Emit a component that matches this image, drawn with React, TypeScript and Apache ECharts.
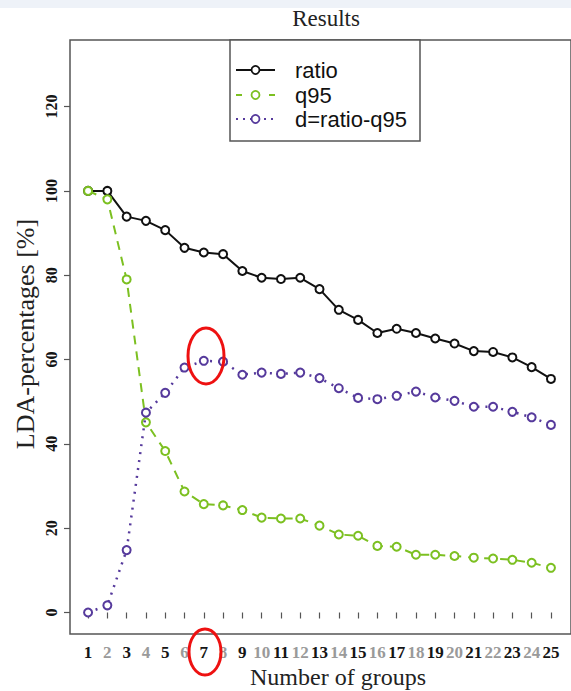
import React, { useEffect, useRef } from "react";
import * as echarts from "echarts";

// Number of groups on the x axis
const groups = [1, 2, 3, 4, 5, 6, 7, 8, 9, 10, 11, 12, 13, 14, 15, 16, 17, 18, 19, 20, 21, 22, 23, 24, 25];

// LDA percentages per number of groups
const ratio = [100, 100, 93.9, 92.9, 90.7, 86.5, 85.4, 85.0, 81.0, 79.4, 79.1, 79.4, 76.7, 71.8, 69.4, 66.3, 67.3, 66.3, 65.0, 63.8, 62.0, 61.8, 60.5, 58.2, 55.4];
const q95 = [100, 98.0, 79.0, 45.1, 38.3, 28.7, 25.7, 25.4, 24.3, 22.5, 22.3, 22.3, 20.6, 18.5, 18.2, 15.8, 15.6, 13.7, 13.7, 13.4, 13.0, 12.8, 12.5, 11.8, 10.6];
const diff = [0, 1.7, 14.8, 47.4, 52.1, 58.1, 59.7, 59.5, 56.4, 56.9, 56.6, 56.9, 55.6, 53.2, 50.9, 50.6, 51.4, 52.4, 51.0, 50.2, 48.8, 48.8, 47.6, 46.3, 44.5];

const yTicks = [0, 20, 40, 60, 80, 100, 120];
const seriesNames = ["ratio", "q95", "d=ratio-q95"];

const BLACK = "#111111";
const GREEN = "#7cc021";
const PURPLE = "#563a9c";
const SERIF = "Liberation Serif, Times New Roman, serif";
const SANS = "Liberation Sans, Arial, sans-serif";

export default function App() {
  const ref = useRef<HTMLDivElement>(null);

  useEffect(() => {
    if (!ref.current) return;
    const chart = echarts.init(ref.current, undefined, { renderer: "svg" });

    const pts = (vals: number[]) => groups.map((g, i) => [g, vals[i]]);

    const legendRows = [
      { name: seriesNames[0], color: BLACK, dash: null as number[] | null, y: 70 },
      { name: seriesNames[1], color: GREEN, dash: [6, 27], y: 95 },
      { name: seriesNames[2], color: PURPLE, dash: [2, 5], y: 119 },
    ];

    const legendEls: any[] = [
      {
        type: "rect",
        shape: { x: 230, y: 40, width: 190, height: 101 },
        style: { fill: "#fff", stroke: "#555", lineWidth: 1.5 },
        z: 10,
      },
    ];
    legendRows.forEach((r) => {
      legendEls.push({
        type: "line",
        shape: { x1: 236, y1: r.y, x2: 275, y2: r.y },
        style: { stroke: r.color, lineWidth: 2, lineDash: r.dash || undefined },
        z: 11,
      });
      legendEls.push({
        type: "circle",
        shape: { cx: 255.5, cy: r.y, r: 4 },
        style: { fill: "#fff", stroke: r.color, lineWidth: 1.8 },
        z: 12,
      });
      legendEls.push({
        type: "text",
        x: 295,
        y: r.y,
        style: { text: r.name, font: `22px ${SANS}`, fill: "#111", verticalAlign: "middle" },
        z: 12,
      });
    });

    const option: any = {
      animation: false,
      backgroundColor: "#ffffff",
      grid: {
        left: 70,
        top: 40,
        width: 513,
        height: 594,
        show: true,
        borderColor: "#555",
        borderWidth: 1.5,
        backgroundColor: "transparent",
      },
      xAxis: {
        type: "value",
        min: 0.063,
        max: 26.04,
        splitLine: { show: false },
        axisLine: { show: false },
        axisTick: {
          show: true,
          customValues: groups,
          length: 6,
          lineStyle: { color: "#555", width: 1.2 },
        },
        axisLabel: {
          customValues: groups,
          margin: 10,
          fontFamily: SERIF,
          fontWeight: "bold",
          fontSize: 17,
          color: (v: number) => (v % 2 === 1 ? "#151515" : "#9a9a9a"),
        },
      },
      yAxis: {
        type: "value",
        min: -5.1,
        max: 135.8,
        splitLine: { show: false },
        axisLine: { show: false },
        axisTick: {
          show: true,
          customValues: yTicks,
          length: 6,
          lineStyle: { color: "#555", width: 1.2 },
        },
        axisLabel: {
          customValues: yTicks,
          rotate: 90,
          margin: 11,
          fontFamily: SERIF,
          fontWeight: "bold",
          fontSize: 16,
          color: "#151515",
        },
      },
      series: [
        {
          name: seriesNames[0],
          type: "line",
          data: pts(ratio),
          symbol: "emptyCircle",
          symbolSize: 8,
          lineStyle: { color: BLACK, width: 2 },
          itemStyle: { color: BLACK, borderColor: BLACK, borderWidth: 1.8 },
          z: 3,
        },
        {
          name: seriesNames[1],
          type: "line",
          data: pts(q95),
          symbol: "emptyCircle",
          symbolSize: 8,
          lineStyle: { color: GREEN, width: 2, type: [9, 7] },
          itemStyle: { color: GREEN, borderColor: GREEN, borderWidth: 1.8 },
          z: 4,
        },
        {
          name: seriesNames[2],
          type: "line",
          data: pts(diff),
          symbol: "emptyCircle",
          symbolSize: 8,
          lineStyle: { color: PURPLE, width: 2.5, type: [2, 6] },
          itemStyle: { color: PURPLE, borderColor: PURPLE, borderWidth: 1.8 },
          z: 5,
        },
      ],
      graphic: [
        {
          type: "rect",
          shape: { x: 0, y: 0, width: 571, height: 8 },
          style: { fill: "#eef2f8" },
          z: 0,
        },
        {
          type: "text",
          x: 326,
          y: 18,
          style: { text: "Results", font: `23px ${SERIF}`, fill: "#222", align: "center", verticalAlign: "middle" },
        },
        {
          type: "text",
          x: 338,
          y: 677,
          style: { text: "Number of groups", font: `24px ${SERIF}`, fill: "#222", align: "center", verticalAlign: "middle" },
        },
        {
          type: "text",
          x: 25,
          y: 334,
          rotation: Math.PI / 2,
          style: { text: "LDA-percentages [%]", font: `26px ${SERIF}`, fill: "#222", align: "center", verticalAlign: "middle" },
        },
        ...legendEls,
        {
          type: "ellipse",
          shape: { cx: 206, cy: 356, rx: 18, ry: 28 },
          style: { fill: "none", stroke: "#ee1111", lineWidth: 3 },
          z: 20,
        },
        {
          type: "ellipse",
          shape: { cx: 205, cy: 652, rx: 16, ry: 23 },
          style: { fill: "none", stroke: "#ee1111", lineWidth: 3 },
          z: 20,
        },
      ],
    };

    chart.setOption(option);
    return () => chart.dispose();
  }, []);

  return (
    <div
      ref={ref}
      style={{ position: "absolute", left: 0, top: 0, width: 571, height: 691 }}
    />
  );
}
